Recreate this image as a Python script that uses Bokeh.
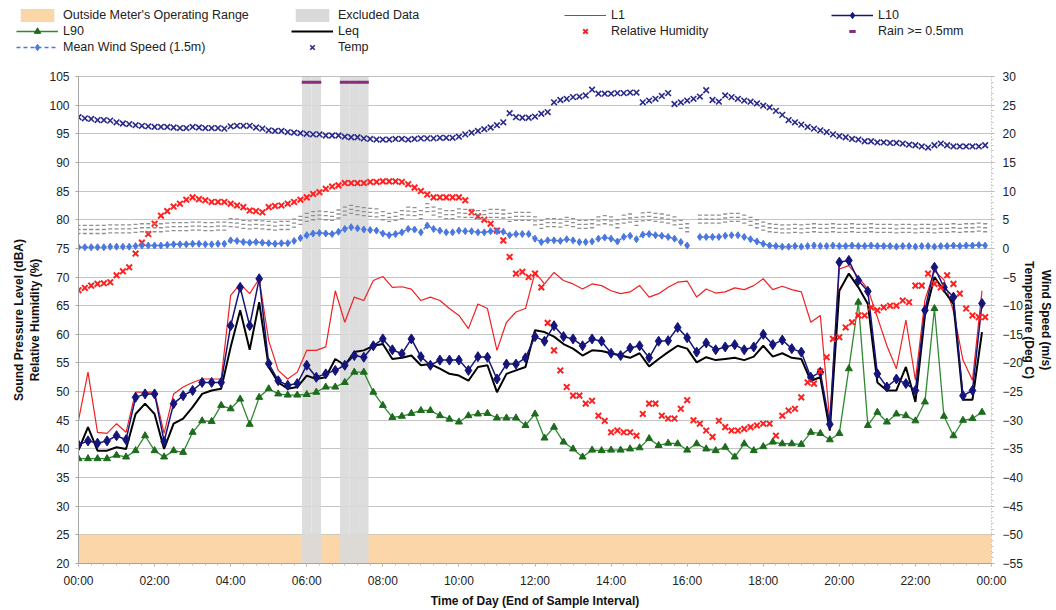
import math
from bokeh.plotting import figure
from bokeh.models import (Range1d, LinearAxis, FixedTicker, Legend, LegendItem, Span)
from bokeh.embed import file_html
from bokeh.resources import INLINE

FONT = "Liberation Sans"

# ---------------- data ----------------
tick_hours = [0, 2, 4, 6, 8, 10, 12, 14, 16, 18, 20, 22, 24]
tick_labels = ["00:00", "02:00", "04:00", "06:00", "08:00", "10:00", "12:00",
               "14:00", "16:00", "18:00", "20:00", "22:00", "00:00"]

# 15-minute sound levels (dBA), 00:00 .. 23:45
L1 = [45.0, 53.4, 42.9, 42.7, 44.4, 42.9, 49.9, 49.9, 49.9, 42.7,
      49.6, 50.8, 51.6, 52.2, 52.2, 52.2, 66.8, 68.8, 67.1, 69.7,
      58.9, 53.7, 52.2, 53.4, 57.2, 57.2, 57.8, 67.6, 62.1, 66.5,
      65.9, 69.4, 70.1, 68.2, 68.3, 67.9, 65.9, 66.5, 65.9, 64.5,
      63.3, 61.0, 65.3, 64.5, 57.2, 62.1, 63.9, 64.5, 70.8, 68.8,
      70.8, 69.4, 68.8, 67.9, 68.8, 68.5, 67.6, 67.1, 67.4, 68.5,
      66.5, 67.1, 68.2, 69.1, 69.3, 66.5, 67.9, 67.2, 67.4, 68.1,
      67.8, 68.5, 69.7, 67.8, 68.4, 67.8, 67.4, 62.1, 63.3, 44.9,
      71.4, 72.0, 70.0, 67.9, 63.0, 58.0, 54.0, 62.5, 52.0, 66.0,
      71.1, 69.5, 64.0, 55.5, 52.0, 67.6]
L10 = [40.7, 41.4, 41.0, 41.4, 42.3, 41.6, 49.0, 49.6, 49.6, 41.3,
       47.9, 49.3, 50.2, 51.6, 51.6, 51.6, 61.5, 68.2, 61.5, 69.7,
       54.9, 51.9, 51.1, 51.4, 54.6, 52.5, 53.1, 53.7, 54.6, 56.3,
       56.0, 58.0, 59.2, 57.3, 56.6, 59.2, 56.1, 54.6, 55.5, 55.5,
       55.5, 53.7, 56.1, 56.0, 52.2, 54.8, 54.8, 55.9, 59.6, 58.8,
       61.5, 59.6, 59.2, 58.0, 59.2, 58.8, 56.7, 56.3, 57.6, 58.0,
       55.9, 58.8, 58.9, 61.2, 59.4, 56.9, 58.5, 57.3, 57.8, 58.2,
       57.3, 57.8, 60.0, 58.2, 59.0, 57.5, 56.9, 52.5, 53.4, 44.3,
       72.6, 72.9, 69.4, 67.5, 53.1, 50.8, 52.2, 51.4, 50.2, 64.2,
       71.7, 68.2, 66.5, 49.3, 50.2, 65.4]
Leq = [39.8, 43.8, 39.7, 39.7, 40.3, 40.0, 46.1, 47.9, 46.1, 40.0,
       44.4, 45.3, 47.3, 49.6, 50.2, 50.5, 57.8, 64.2, 57.3, 65.6,
       54.3, 51.6, 50.5, 50.8, 52.8, 52.2, 52.5, 55.7, 54.6, 56.9,
       57.2, 58.0, 58.3, 55.7, 55.9, 56.3, 54.6, 54.8, 54.0, 53.1,
       52.8, 51.9, 54.3, 54.6, 49.9, 53.1, 53.7, 54.3, 60.7, 60.4,
       59.6, 58.3, 57.5, 56.3, 57.2, 57.1, 56.7, 56.3, 55.9, 56.7,
       54.4, 55.7, 56.9, 58.0, 57.5, 55.1, 56.0, 55.5, 55.7, 55.9,
       55.5, 56.1, 58.0, 56.1, 56.7, 55.9, 55.7, 51.9, 52.5, 43.2,
       67.6, 70.6, 68.2, 65.3, 51.6, 50.2, 50.2, 54.3, 48.2, 63.3,
       70.0, 67.6, 65.3, 48.6, 48.6, 60.4]
L90 = [38.3, 38.3, 38.3, 38.3, 38.9, 38.6, 39.7, 42.3, 39.7, 38.6,
       39.7, 39.4, 42.9, 44.9, 44.8, 47.6, 47.0, 48.7, 44.3, 49.0,
       50.5, 49.6, 49.4, 49.4, 49.5, 49.9, 50.8, 50.8, 51.6, 53.4,
       53.4, 49.9, 47.6, 45.5, 45.7, 46.2, 46.7, 46.7, 45.8, 45.2,
       44.7, 45.8, 46.1, 46.2, 45.4, 45.4, 45.4, 44.1, 46.1, 41.9,
       43.8, 41.2, 40.0, 38.6, 39.8, 39.7, 39.8, 39.8, 40.0, 40.2,
       41.8, 40.6, 41.0, 40.9, 39.8, 40.9, 40.0, 39.7, 40.3, 38.6,
       40.9, 39.7, 40.4, 41.2, 40.9, 40.9, 40.8, 42.9, 42.7, 41.6,
       42.7, 54.0, 65.6, 44.1, 46.4, 44.7, 46.1, 45.8, 44.9, 48.2,
       64.5, 45.7, 42.3, 45.0, 45.3, 46.4]

# 10-minute weather data, 00:00 .. 23:50
rel_humidity = [
    67.7, 68.1, 68.5, 68.8, 68.9, 69.1,
    70.3, 71.0, 71.7, 74.1, 76.0, 77.5,
    79.3, 80.7, 81.5, 82.3, 82.8, 83.5,
    83.9, 83.6, 83.4, 83.1, 83.1, 83.1,
    82.8, 82.5, 82.2, 81.6, 81.5, 81.3,
    82.2, 82.4, 82.5, 82.8, 83.1, 83.5,
    83.9, 84.5, 84.8, 85.4, 85.8, 86.0,
    86.4, 86.4, 86.4, 86.4, 86.6, 86.6,
    86.7, 86.7, 86.7, 86.6, 86.2, 85.6,
    85.0, 84.4, 83.9, 83.9, 83.9, 83.9,
    83.9, 83.4, 81.3, 80.6, 80.0, 79.3,
    78.1, 76.4, 73.5, 70.6, 70.9, 70.0,
    70.6, 68.2, 62.0, 57.2, 53.7, 50.8,
    49.3, 49.3, 47.9, 48.4, 45.8, 44.9,
    42.9, 43.2, 42.9, 42.9, 42.3, 46.1,
    47.9, 47.9, 45.8, 45.3, 45.3, 47.0,
    48.5, 45.0, 44.4, 43.2, 42.1, 44.9,
    43.8, 43.2, 43.2, 43.5, 43.8, 44.1,
    44.4, 44.4, 42.3, 45.8, 46.7, 47.0,
    49.0, 51.6, 51.4, 53.5, 56.0, 59.2,
    59.5, 61.2, 62.1, 63.3, 63.3, 64.7,
    64.2, 64.7, 65.0, 65.0, 65.9, 65.6,
    68.5, 68.5, 70.6, 68.8, 68.2, 70.3,
    68.8, 67.1, 64.5, 63.3, 63.0, 63.0]
temperature = [
    22.9, 22.7, 22.6, 22.4, 22.4, 22.3,
    22.0, 21.8, 21.7, 21.5, 21.4, 21.3,
    21.2, 21.2, 21.2, 21.1, 21.0, 21.0,
    21.2, 21.1, 21.0, 21.0, 21.0, 20.9,
    21.3, 21.4, 21.4, 21.4, 21.1, 20.9,
    20.6, 20.5, 20.5, 20.3, 20.2, 20.1,
    20.0, 19.9, 19.9, 19.7, 19.7, 19.7,
    19.5, 19.4, 19.4, 19.2, 19.1, 19.0,
    19.0, 19.0, 19.1, 19.1, 19.0, 19.1,
    19.2, 19.2, 19.2, 19.3, 19.3, 19.3,
    19.5, 19.9, 20.2, 20.5, 20.8, 21.1,
    21.5, 22.0, 23.6, 22.9, 22.8, 22.8,
    23.0, 23.5, 23.8, 25.5, 25.9, 26.1,
    26.4, 26.5, 26.7, 27.7, 27.0, 27.0,
    27.0, 27.1, 27.1, 27.2, 27.2, 25.5,
    25.8, 26.1, 26.6, 27.1, 25.2, 25.5,
    25.8, 26.1, 26.5, 27.6, 25.9, 25.6,
    26.7, 26.4, 26.1, 25.8, 25.6, 25.3,
    24.9, 24.6, 24.0, 23.3, 22.4, 22.0,
    21.6, 21.2, 20.9, 20.6, 20.3, 19.9,
    19.6, 19.4, 19.1, 19.0, 18.7, 18.7,
    18.5, 18.5, 18.4, 18.4, 18.3, 18.1,
    18.0, 17.8, 17.6, 18.0, 18.3, 18.0,
    17.8, 17.8, 17.8, 17.8, 17.8, 18.0]
nan = float("nan")
wind_speed = [
    0.2, 0.2, 0.2, 0.2, 0.2, 0.3,
    0.3, 0.3, 0.3, 0.4, 0.5, 0.5,
    0.5, 0.5, 0.6, 0.7, 0.7, 0.7,
    0.8, 0.8, 0.7, 0.7, 0.8, 0.8,
    1.4, 1.3, 1.1, 1.0, 1.1, 1.0,
    0.9, 0.8, 0.9, 0.9, 1.3, 1.8,
    2.3, 2.6, 2.7, 2.6, 2.5, 2.9,
    3.4, 3.7, 3.5, 3.3, 3.2, 3.1,
    2.6, 2.3, 2.5, 2.8, 3.4, 3.3,
    2.8, 4.0, 3.4, 3.1, 2.8, 2.8,
    3.1, 3.0, 3.0, 2.8, 2.8, 3.0,
    3.0, 2.9, 2.3, 2.5, 2.5, 2.5,
    1.7, 1.1, 1.4, 1.4, 1.3, 1.6,
    1.4, 1.1, 1.1, 1.2, 1.7, 1.9,
    1.7, 1.2, 2.0, 2.2, 1.6, 2.4,
    2.5, 2.3, 2.2, 2.0, 1.7, 1.1,
    0.5, nan, 2.0, 2.0, 2.0, 2.0,
    2.2, 2.3, 2.3, 2.0, 1.6, 1.2,
    0.8, 0.5, 0.4, 0.3, 0.3, 0.4,
    0.3, 0.4, 0.5, 0.4, 0.4, 0.5,
    0.4, 0.4, 0.5, 0.4, 0.4, 0.5,
    0.4, 0.4, 0.4, 0.3, 0.4, 0.4,
    0.3, 0.4, 0.4, 0.3, 0.4, 0.4,
    0.5, 0.4, 0.5, 0.5, 0.6, 0.5]

excluded_times = [6.0, 6.25, 7.0, 7.25, 7.5]   # 15-min intervals excluded
rain_times = [6.0, 6.25, 7.0, 7.25, 7.5]       # intervals with rain >= 0.5mm
rain_flag_level = [104, 104, 104, 104, 104]
meter_floor = 25           # dBA lower limit of meter
day_start, day_end = 0, 24
spl_min, spl_max = 20, 105
right_min, right_max = -55, 30

t15 = [i * 0.25 for i in range(len(L1))]
t10 = [i / 6 for i in range(len(temperature))]

# ---------------- main figure ----------------
p = figure(frame_width=913, frame_height=487, output_backend="svg",
           toolbar_location=None,
           x_range=Range1d(day_start, day_end), y_range=Range1d(spl_min, spl_max),
           min_border_left=78, min_border_right=50, min_border_top=14,
           min_border_bottom=44, background_fill_color="white",
           border_fill_color="white", outline_line_color=None)
p.extra_y_ranges = {"right": Range1d(right_min, right_max),
                    "wl1": Range1d(right_min - 2.4, right_max - 2.4),
                    "wl2": Range1d(right_min - 3.1, right_max - 3.1),
                    "wl3": Range1d(right_min - 3.8, right_max - 3.8)}

p.ygrid.grid_line_color = "#c4c4c4"
p.xgrid.grid_line_color = None

xa = p.xaxis[0]
xa.ticker = FixedTicker(ticks=tick_hours, minor_ticks=[k / 3 for k in range(73)])
xa.major_label_overrides = {h: s for h, s in zip(tick_hours, tick_labels)}
xa.axis_label = "Time of Day (End of Sample Interval)"
ya = p.yaxis[0]
ya.ticker = FixedTicker(ticks=list(range(spl_min, spl_max + 1, 5)), minor_ticks=[])
ya.axis_label = "Sound Pressure Level (dBA)\nRelative Humidity (%)"
ra = LinearAxis(y_range_name="right",
                ticker=FixedTicker(ticks=list(range(right_min, right_max + 1, 5)),
                                   minor_ticks=list(range(right_min, right_max + 1))),
                axis_label="Wind Speed (m/s)\nTemperature (Deg C)")
p.add_layout(ra, "right")

for ax in (xa, ya, ra):
    ax.axis_line_color = "#a6a6a6"
    ax.major_tick_line_color = "#a6a6a6"
    ax.minor_tick_line_color = "#c0c0c0"
    ax.major_tick_in = 0
    ax.minor_tick_in = 0
    ax.major_tick_out = 3
    ax.minor_tick_out = 2
    ax.major_label_text_font = FONT
    ax.major_label_text_font_size = "12px"
    ax.major_label_text_color = "#222222"
    ax.axis_label_text_font = FONT
    ax.axis_label_text_font_size = "12px"
    ax.axis_label_text_font_style = "bold"
    ax.axis_label_text_color = "#111111"
xa.major_label_standoff = 7
xa.axis_label_standoff = 3
ya.major_label_standoff = 6
ya.axis_label_standoff = 4
ra.major_label_standoff = 8
ra.axis_label_standoff = -4
ra.axis_line_dash = "1 2"

p.add_layout(Span(location=spl_max, dimension="width", line_color="#808080", line_width=1))

p.quad(left=[day_start], right=[day_end], bottom=[spl_min], top=[meter_floor],
       fill_color="#fbd6a8", line_color=None)
p.vbar(x=excluded_times, width=0.25, bottom=spl_min, top=spl_max,
       fill_color="#d9d9d9", fill_alpha=0.9, line_color=None)

p.line(t15, L1, line_color="#ee2222", line_width=1.2)
p.line(t15, L90, line_color="#2f8a2f", line_width=1.3)
p.scatter(t15, L90, marker="triangle", size=7, fill_color="#1d6b1d", line_color="#1d6b1d")
p.line(t15, Leq, line_color="black", line_width=2)
p.line(t15, L10, line_color="#14147a", line_width=1.5)
p.scatter(t15, L10, marker="diamond", size=10, fill_color="#14147a", line_color="#14147a")

p.scatter(t10, rel_humidity, marker="x", size=8, line_color="#ff2020", line_width=2)
p.scatter(t10, temperature, marker="x", size=8, line_color="#2a2a8c", line_width=1.6,
          y_range_name="right")
p.line(t10, wind_speed, line_color="#4a78e0", line_width=1.5, line_dash="4 2",
       y_range_name="right")
p.scatter(t10, wind_speed, marker="diamond", size=7, fill_color="#4a78e0",
          line_color="#4a78e0", y_range_name="right")
# small grey wind-direction labels (unreadable) stacked above the wind points
for rn in ("wl1", "wl2", "wl3"):
    p.scatter(t10, wind_speed, marker="dash", size=4, line_color="#8f8f8f",
              line_width=1.3, y_range_name=rn)

p.scatter(rain_times, rain_flag_level, marker="dash", size=10, line_color="#862d7c",
          line_width=3)

# ---------------- legend strip (separate root above the chart) ----------------
lf = figure(width=1042, height=62, output_backend="svg", toolbar_location=None,
            x_range=Range1d(0, 1), y_range=Range1d(0, 1),
            x_axis_location=None, y_axis_location=None,
            min_border_left=0, min_border_right=0, min_border_top=0,
            min_border_bottom=0, outline_line_color=None,
            background_fill_color="white", border_fill_color="white")
lf.grid.visible = False

# legend keys: glyphs whose only point lies outside the strip's visible range
ox, oy = [-2, -1], [-2, -1]
g_range = lf.quad(left=[-2], right=[-1], bottom=[-2], top=[-1], fill_color="#fbd6a8", line_color=None)
g_excl = lf.quad(left=[-2], right=[-1], bottom=[-2], top=[-1], fill_color="#d9d9d9", line_color=None)
g_l1 = lf.line(ox, oy, line_color="#ee2222", line_width=1.2)
g_l10l = lf.line(ox, oy, line_color="#14147a", line_width=1.5)
g_l10m = lf.scatter(ox, oy, marker="diamond", size=9, fill_color="#14147a", line_color="#14147a")
g_l90l = lf.line(ox, oy, line_color="#2f8a2f", line_width=1.3)
g_l90m = lf.scatter(ox, oy, marker="triangle", size=7, fill_color="#1d6b1d", line_color="#1d6b1d")
g_leq = lf.line(ox, oy, line_color="black", line_width=2)
g_rh = lf.scatter(ox, oy, marker="x", size=7, line_color="#ff2020", line_width=2)
g_rain = lf.scatter(ox, oy, marker="dash", size=8, line_color="#862d7c", line_width=3)
g_windl = lf.line(ox, oy, line_color="#4a78e0", line_width=1.5, line_dash="4 3")
g_windm = lf.scatter(ox, oy, marker="diamond", size=7, fill_color="#4a78e0", line_color="#4a78e0")
g_temp = lf.scatter(ox, oy, marker="x", size=7, line_color="#2a2a8c", line_width=1.6)


def make_legend(items, vx, vy):
    leg = Legend(items=[LegendItem(label=lab, renderers=rs, index=0) for lab, rs in items],
                 location=(vx, vy), orientation="vertical", padding=0, spacing=0,
                 margin=0, glyph_width=42, glyph_height=16, label_height=16,
                 label_standoff=5, label_text_font=FONT,
                 label_text_font_size="12.5px", label_text_color="#222222",
                 border_line_color=None, background_fill_alpha=0)
    lf.add_layout(leg)


make_legend([("Outside Meter's Operating Range", [g_range]),
             ("L90", [g_l90l, g_l90m]),
             ("Mean Wind Speed (1.5m)", [g_windl, g_windm])], 16, 7)
make_legend([("Excluded Data", [g_excl]),
             ("Leq", [g_leq]),
             ("Temp", [g_temp])], 291, 7)
make_legend([("L1", [g_l1]),
             ("Relative Humidity", [g_rh])], 564, 23)
make_legend([("L10", [g_l10l, g_l10m]),
             ("Rain >= 0.5mm", [g_rain])], 831, 23)

open("out.html", "w").write(file_html([lf, p], INLINE))
